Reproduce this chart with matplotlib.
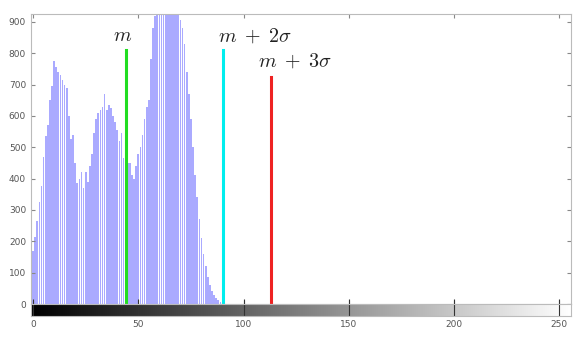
import numpy as np
import matplotlib
matplotlib.use('Agg')
import matplotlib.pyplot as plt

# histogram counts (bins 0..89, everything after is empty)
counts_head = [170, 215, 265, 325, 375, 470, 535, 570, 650, 695,
               775, 755, 740, 730, 715, 700, 690, 600, 525, 540,
               450, 385, 400, 420, 370, 420, 390, 440, 480, 545,
               590, 610, 620, 630, 670, 620, 635, 625, 600, 580,
               555, 520, 545, 465, 455, 450, 450, 410, 400, 440,
               480, 500, 540, 590, 630, 650, 780, 880, 920, 950,
               970, 980, 990, 1000, 1000, 990, 985, 970, 960, 940,
               905, 880, 830, 740, 670, 590, 500, 410, 340, 270,
               210, 160, 120, 85, 60, 42, 28, 18, 12, 5]
counts = np.zeros(256)
counts[:len(counts_head)] = counts_head
levels = np.arange(256)

# threshold lines: position, height, colour, label
m_pos = 44
m2s_pos = 90
m3s_pos = 113
line_tops = [810, 810, 725]
line_colors = ['#22dd22', '#00eeee', '#ee2222']
labels = [r'$m$', r'$m\;+\;2\sigma$', r'$m\;+\;3\sigma$']
label_pos = [(42.6, 838), (105.5, 838), (124.5, 757)]

plt.rcParams['mathtext.fontset'] = 'cm'

fig = plt.figure(figsize=(5.78, 3.42), dpi=100)
ax = fig.add_axes([0.0536, 0.111, 0.934, 0.848])
cax = fig.add_axes([0.0536, 0.076, 0.934, 0.035])

ax.bar(levels, counts, width=0.8, color='#aaaaff', edgecolor='none')
for x, top, c in zip([m_pos, m2s_pos, m3s_pos], line_tops, line_colors):
    ax.plot([x, x], [0, top], color=c, lw=2.2)
for (tx, ty), t in zip(label_pos, labels):
    ax.text(tx, ty, t, ha='center', va='baseline', fontsize=14.5, color='#222222')

ax.set_xlim(-1, 255.5)
ax.set_ylim(0, 925)
ax.set_yticks(np.arange(0, 901, 100))
ax.set_xticks(np.arange(0, 251, 50))
ax.tick_params(axis='both', direction='in', length=3, color='#888888',
               labelsize=6.5, labelcolor='#555555', top=True, right=True,
               labelbottom=False)
for s in ax.spines.values():
    s.set_color('#bbbbbb')

# gray colour bar under the histogram
grad = np.linspace(0, 1, 256).reshape(1, -1)
cax.imshow(grad, cmap='gray', aspect='auto', extent=[-0.5, 255.5, 0, 1])
cax.set_xlim(-1, 255.5)
cax.set_yticks([])
cax.set_xticks(np.arange(0, 251, 50))
cax.tick_params(axis='x', direction='in', length=12, color='#333333',
                labelsize=6.5, labelcolor='#555555', pad=3)
for s in cax.spines.values():
    s.set_color('#bbbbbb')

fig.savefig('out.png', dpi=100)
